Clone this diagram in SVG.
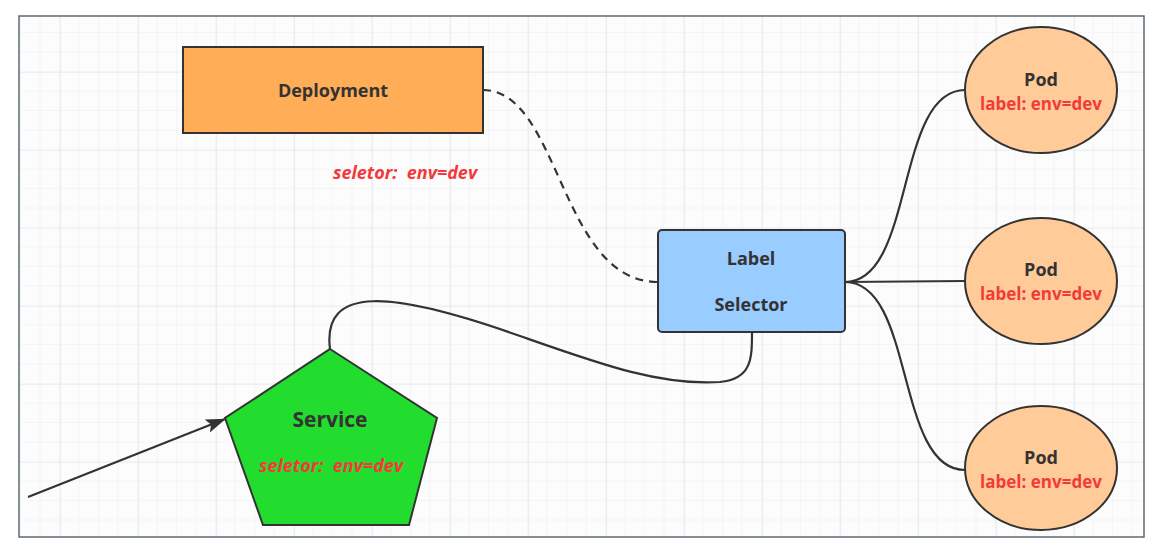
<svg xmlns="http://www.w3.org/2000/svg" width="1168" height="558" viewBox="0 0 1168 558">
<defs>
<pattern id="minor" x="21" y="33" width="19.5" height="19.5" patternUnits="userSpaceOnUse">
<path d="M19.5 0V19.5M0 19.5H19.5" fill="none" stroke="#EAEDF0" stroke-width="1"/>
</pattern>
<pattern id="major" x="60" y="72" width="78" height="78" patternUnits="userSpaceOnUse">
<path d="M0 0V78M0 0H78" fill="none" stroke="#E0E4E8" stroke-width="1.2"/>
</pattern>
<marker id="arr" viewBox="0 0 20 14" refX="19" refY="7" markerWidth="20" markerHeight="14" orient="auto" markerUnits="userSpaceOnUse">
<path d="M0 0L20 7L0 14L4 7Z" fill="#333"/>
</marker>
</defs>
<style>
.title{font-family:"Open Sans","Liberation Sans",sans-serif;font-weight:bold;font-size:18px;fill:#333;text-anchor:middle}
.big{font-size:21px}
.red{font-family:"Open Sans","Liberation Sans",sans-serif;font-weight:bold;font-size:17px;fill:#F23A3A;text-anchor:middle;white-space:pre}
.ital{font-style:italic;font-size:18px}
.edge{fill:none;stroke:#333;stroke-width:2.2}
.shape{stroke:#333;stroke-width:2}
</style>
<rect width="1168" height="558" fill="#FFFFFF"/>
<rect x="19" y="16" width="1125" height="521" fill="#FCFCFC"/>
<rect x="19" y="16" width="1125" height="521" fill="url(#minor)"/>
<rect x="19" y="16" width="1125" height="521" fill="url(#major)"/>
<rect x="19" y="16" width="1125" height="521" fill="none" stroke="#5E6873" stroke-width="1.5"/>

<g id="connectors">
<path class="edge" d="M483,90 C560,90 560,282 658,282" stroke-dasharray="8,6"/>
<path class="edge" d="M330,349 C322,285 390,290 520,336 C600,364 660,386 720,382 C752,379 752,358 752,332"/>
<path class="edge" d="M845,282 C915,282 895,90 965,90"/>
<path class="edge" d="M845,282 L965,281"/>
<path class="edge" d="M845,282 C915,282 895,470 965,470"/>
<path class="edge" d="M28,497 L225,419" marker-end="url(#arr)"/>
</g>

<g id="deployment">
<rect class="shape" x="183" y="47" width="300" height="86" fill="#FFAE57"/>
<text class="title" x="333" y="97">Deployment</text>
</g>

<g id="deployment-selector">
<text class="red ital" x="405" y="179" xml:space="preserve">seletor:  env=dev</text>
</g>

<g id="label-selector">
<rect class="shape" x="658" y="230" width="187" height="102" rx="4" fill="#99CCFF"/>
<text class="title" x="751" y="265">Label</text>
<text class="title" x="751" y="311">Selector</text>
</g>

<g id="service">
<polygon class="shape" points="330,349 437,418 409,525 263,525 225,418" fill="#22DD2E"/>
<text class="title big" x="330" y="427">Service</text>
<text class="red ital" x="331" y="472" xml:space="preserve">seletor:  env=dev</text>
</g>

<g id="pod1">
<ellipse class="shape" cx="1041" cy="90" rx="76" ry="63" fill="#FFCC99"/>
<text class="title" x="1041" y="86">Pod</text>
<text class="red" x="1041" y="110">label: env=dev</text>
</g>
<g id="pod2">
<ellipse class="shape" cx="1041" cy="281" rx="76" ry="63" fill="#FFCC99"/>
<text class="title" x="1041" y="276">Pod</text>
<text class="red" x="1041" y="300">label: env=dev</text>
</g>
<g id="pod3">
<ellipse class="shape" cx="1041" cy="468" rx="76" ry="62" fill="#FFCC99"/>
<text class="title" x="1041" y="464">Pod</text>
<text class="red" x="1041" y="488">label: env=dev</text>
</g>
</svg>
